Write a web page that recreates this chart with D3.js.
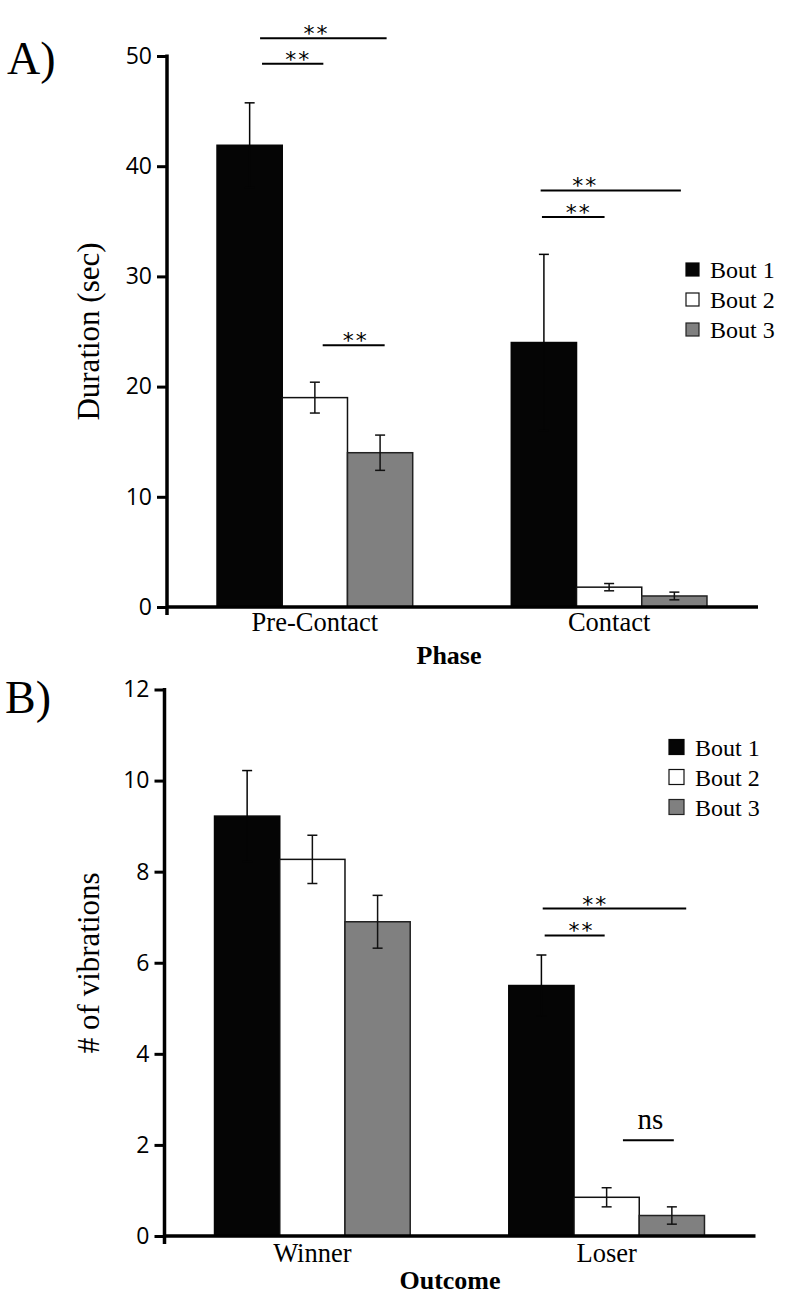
<!DOCTYPE html>
<html>
<head>
<meta charset="utf-8">
<script src="https://cdn.jsdelivr.net/npm/d3@7"></script>
<style>
  html, body { margin: 0; padding: 0; background: #fff; }
  svg { display: block; }
</style>
</head>
<body>
<svg id="chart" width="788" height="1304"></svg>
<script>
// ---------------- DATA ----------------
const seriesNames = ["Bout 1", "Bout 2", "Bout 3"];

// Panel A
const phaseCategories = ["Pre-Contact", "Contact"];
const durationBout1 = [41.9, 24.0];
const durationBout2 = [19.0, 1.8];
const durationBout3 = [14.0, 1.0];
const durationErr1 = [3.85, 8.0];
const durationErr2 = [1.4, 0.33];
const durationErr3 = [1.6, 0.35];
const durationTicks = [0, 10, 20, 30, 40, 50];
// significance brackets: category, bar-unit span, height in data units, label position (bar units)
const durationSig = [
  { cat: "Pre-Contact", from: 0.66, to: 2.60, y: 51.6, at: 1.51, label: "**" },
  { cat: "Pre-Contact", from: 0.69, to: 1.63, y: 49.3, at: 1.23, label: "**" },
  { cat: "Pre-Contact", from: 1.62, to: 2.57, y: 23.75, at: 2.11, label: "**" },
  { cat: "Contact", from: 0.45, to: 2.60, y: 37.8, at: 1.12, label: "**" },
  { cat: "Contact", from: 0.47, to: 1.43, y: 35.4, at: 1.02, label: "**" }
];

// Panel B
const outcomeCategories = ["Winner", "Loser"];
const vibBout1 = [9.22, 5.50];
const vibBout2 = [8.27, 0.85];
const vibBout3 = [6.90, 0.45];
const vibErr1 = [1.0, 0.67];
const vibErr2 = [0.53, 0.21];
const vibErr3 = [0.58, 0.19];
const vibTicks = [0, 2, 4, 6, 8, 10, 12];
const vibSig = [
  { cat: "Loser", from: 0.52, to: 2.72, y: 7.19, at: 1.31, label: "**" },
  { cat: "Loser", from: 0.55, to: 1.47, y: 6.60, at: 1.10, label: "**" },
  { cat: "Loser", from: 1.75, to: 2.53, y: 2.10, at: 2.17, label: "ns" }
];

// ---------------- STYLE ----------------
const fills = ["#050505", "#ffffff", "#808080"];
const strokes = ["#050505", "#111111", "#222222"];
const serif = "'Liberation Serif', 'Times New Roman', serif";
const sans = "'Open Sans', 'Noto Sans', sans-serif";

const svg = d3.select("#chart");
svg.append("rect").attr("width", 788).attr("height", 1304).attr("fill", "#fff");

function drawPanel(cfg) {
  const values = [cfg.v1, cfg.v2, cfg.v3];
  const errs = [cfg.e1, cfg.e2, cfg.e3];
  const L = cfg.left;
  const x = d3.scaleBand().domain(cfg.cats).range([L, L + 590])
    .paddingInner(0.335).paddingOuter(0.17);
  const xs = d3.scaleBand().domain(seriesNames).range([0, x.bandwidth()]).padding(0);
  const y = d3.scaleLinear().domain([0, cfg.max]).range([cfg.bottom, cfg.top]);
  const bw = xs.bandwidth();

  const g = svg.append("g");

  // bars
  cfg.cats.forEach((c, ci) => {
    seriesNames.forEach((s, si) => {
      const v = values[si][ci];
      g.append("rect")
        .attr("x", x(c) + xs(s))
        .attr("y", y(v))
        .attr("width", bw)
        .attr("height", y(0) - y(v))
        .attr("fill", fills[si])
        .attr("stroke", strokes[si])
        .attr("stroke-width", 1.5);
    });
  });

  // error bars
  cfg.cats.forEach((c, ci) => {
    seriesNames.forEach((s, si) => {
      const v = values[si][ci], e = errs[si][ci];
      const cx = x(c) + xs(s) + bw / 2;
      const col = si === 0 ? "#050505" : "#111";
      g.append("line").attr("x1", cx).attr("x2", cx)
        .attr("y1", y(v + e)).attr("y2", y(Math.max(0, v - e)))
        .attr("stroke", col).attr("stroke-width", 1.5);
      [v + e, v - e].forEach(t => {
        g.append("line").attr("x1", cx - 5).attr("x2", cx + 5)
          .attr("y1", y(t)).attr("y2", y(t))
          .attr("stroke", col).attr("stroke-width", 1.5);
      });
    });
  });

  // y axis
  const yAxis = d3.axisLeft(y).tickValues(cfg.ticks).tickSize(10).tickPadding(5)
    .tickFormat(d3.format("d"));
  const ya = g.append("g").attr("transform", `translate(${L},0)`).call(yAxis);
  ya.select(".domain").remove();
  ya.selectAll(".tick line").attr("stroke", "#000").attr("stroke-width", 3);
  ya.selectAll(".tick text").style("font-family", sans).style("font-size", "23px")
    .attr("fill", "#000");
  g.append("line").attr("x1", L).attr("x2", L)
    .attr("y1", y(cfg.max) - 1.5).attr("y2", y(0) + 8)
    .attr("stroke", "#000").attr("stroke-width", 3.5);

  // x axis
  const xAxis = d3.axisBottom(x).tickSize(0).tickPadding(cfg.labelPad);
  const xa = g.append("g").attr("transform", `translate(0,${y(0)})`).call(xAxis);
  xa.select(".domain").remove();
  xa.selectAll(".tick text").style("font-family", serif).style("font-size", "26.5px")
    .attr("fill", "#000");
  g.append("line").attr("x1", L).attr("x2", L + 591)
    .attr("y1", y(0)).attr("y2", y(0))
    .attr("stroke", "#000").attr("stroke-width", 3.7);

  // axis titles
  g.append("text")
    .attr("transform", `translate(99,${(y(0) + y(cfg.max)) / 2}) rotate(-90)`)
    .attr("text-anchor", "middle")
    .style("font-family", serif).style("font-size", "31px")
    .text(cfg.yTitle);
  g.append("text")
    .attr("x", cfg.xTitleX).attr("y", y(0) + cfg.xTitleOffset)
    .attr("text-anchor", "middle")
    .style("font-family", serif).style("font-weight", "bold").style("font-size", "26px")
    .text(cfg.xTitle);

  // panel letter
  g.append("text").attr("x", cfg.letterX).attr("y", cfg.letterY)
    .style("font-family", serif).style("font-size", "46px").text(cfg.letter);

  // significance brackets
  cfg.sig.forEach(d => {
    const x0 = x(d.cat);
    const ly = y(d.y);
    g.append("line").attr("x1", x0 + d.from * bw).attr("x2", x0 + d.to * bw)
      .attr("y1", ly).attr("y2", ly).attr("stroke", "#000").attr("stroke-width", 2);
    if (d.label === "ns") {
      g.append("text").attr("x", x0 + d.at * bw).attr("y", ly - 11)
        .attr("text-anchor", "middle").style("font-family", serif)
        .style("font-size", "29px").text(d.label);
    } else {
      g.append("text").attr("x", x0 + d.at * bw + 1).attr("y", ly + 3)
        .attr("text-anchor", "middle").style("font-family", "'DejaVu Sans', sans-serif")
        .style("font-size", "22px").attr("letter-spacing", 2).text(d.label);
    }
  });

  // legend
  const lg = g.append("g");
  seriesNames.forEach((s, si) => {
    const ty = cfg.legendY + si * 30;
    lg.append("rect").attr("x", cfg.legendX).attr("y", ty)
      .attr("width", cfg.legendBox).attr("height", cfg.legendBox)
      .attr("fill", fills[si]).attr("stroke", strokes[si]).attr("stroke-width", 1.2);
    lg.append("text").attr("x", cfg.legendX + cfg.legendBox + 11)
      .attr("y", ty + cfg.legendBox + 1.5)
      .style("font-family", serif).style("font-size", "24px").text(s);
  });
}

drawPanel({
  cats: phaseCategories, v1: durationBout1, v2: durationBout2, v3: durationBout3,
  e1: durationErr1, e2: durationErr2, e3: durationErr3,
  ticks: durationTicks, max: 50, top: 56, bottom: 607, left: 167,
  yTitle: "Duration (sec)", xTitle: "Phase", xTitleX: 449, xTitleOffset: 57, labelPad: 5,
  letter: "A)", letterX: 7, letterY: 74,
  sig: durationSig, legendX: 686, legendY: 263, legendBox: 13
});

drawPanel({
  cats: outcomeCategories, v1: vibBout1, v2: vibBout2, v3: vibBout3,
  e1: vibErr1, e2: vibErr2, e3: vibErr3,
  ticks: vibTicks, max: 12, top: 689.5, bottom: 1236, left: 164.5,
  yTitle: "# of vibrations", xTitle: "Outcome", xTitleX: 450, xTitleOffset: 53, labelPad: 7,
  letter: "B)", letterX: 5, letterY: 713,
  sig: vibSig, legendX: 669, legendY: 739.5, legendBox: 15
});
</script>
</body>
</html>
